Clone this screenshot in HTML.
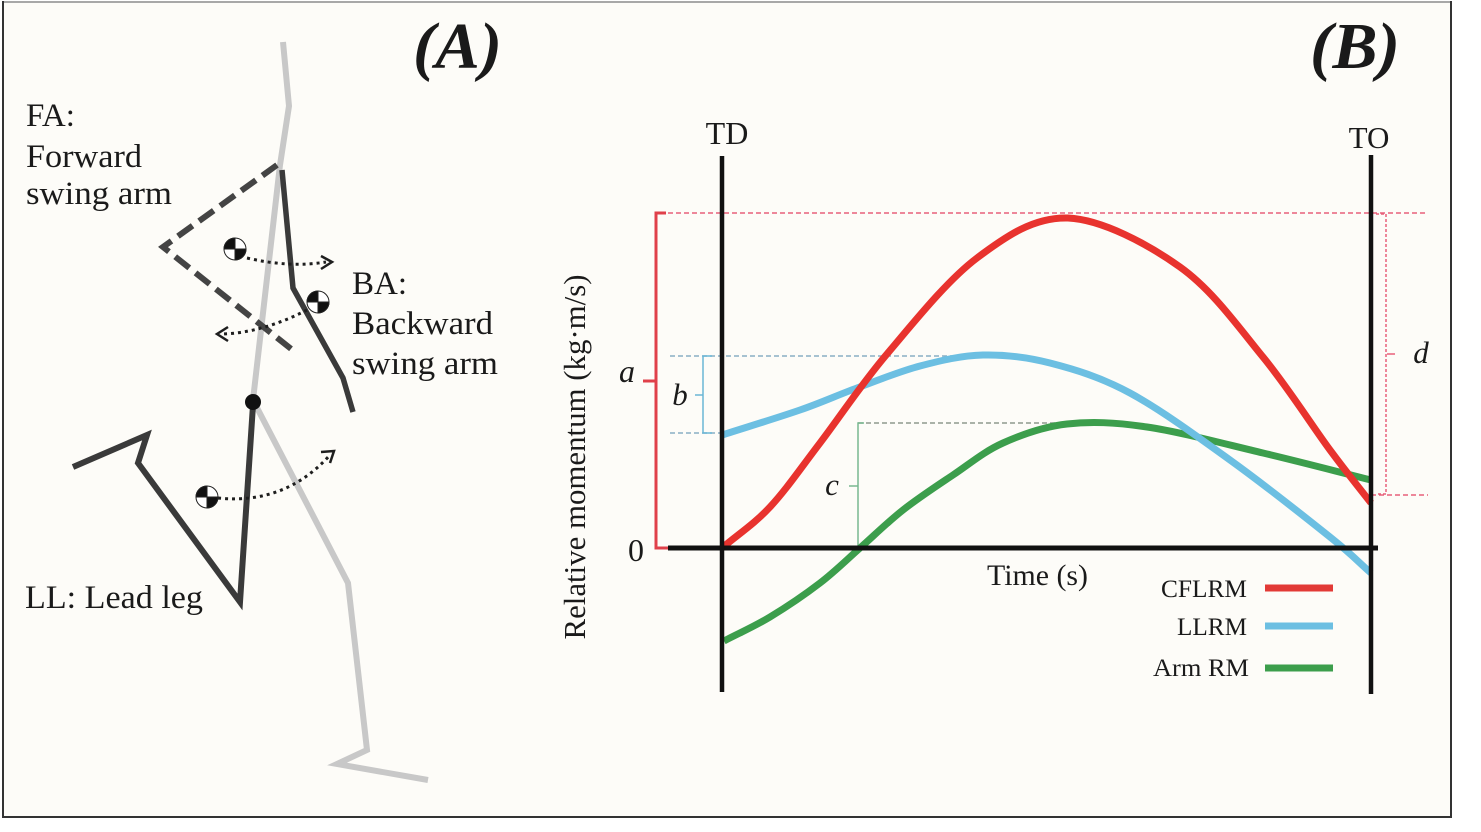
<!DOCTYPE html>
<html>
<head>
<meta charset="utf-8">
<style>
  html, body { margin: 0; padding: 0; background: #ffffff; }
  body { width: 1481px; height: 832px; overflow: hidden; }
  svg { display: block; }
  text { font-family: "Liberation Serif", "DejaVu Serif", serif; fill: #1a1a1a; }
</style>
</head>
<body>
<svg width="1481" height="832" viewBox="0 0 1481 832" xmlns="http://www.w3.org/2000/svg">
  <rect x="0" y="0" width="1481" height="832" fill="#ffffff"/>
  <rect x="3" y="2" width="1448" height="815" fill="#fdfcf8"/>
  <line x1="2" y1="2" x2="1452" y2="2" stroke="#a8a8a8" stroke-width="2"/>
  <line x1="3" y1="1" x2="3" y2="818" stroke="#333" stroke-width="2"/>
  <line x1="1451" y1="1" x2="1451" y2="818" stroke="#333" stroke-width="2"/>
  <line x1="2" y1="817" x2="1452" y2="817" stroke="#333" stroke-width="2"/>

  <!-- ================= (A) ================= -->
  <text x="413" y="68" font-size="66" font-weight="bold" font-style="italic" textLength="89" lengthAdjust="spacingAndGlyphs">(A)</text>

  <text x="26" y="126" font-size="33">FA:</text>
  <text x="26" y="167" font-size="33" textLength="116" lengthAdjust="spacingAndGlyphs">Forward</text>
  <text x="26" y="204" font-size="33" textLength="146" lengthAdjust="spacingAndGlyphs">swing arm</text>

  <text x="352" y="294" font-size="33">BA:</text>
  <text x="352" y="334" font-size="33" textLength="141" lengthAdjust="spacingAndGlyphs">Backward</text>
  <text x="352" y="374" font-size="33" textLength="146" lengthAdjust="spacingAndGlyphs">swing arm</text>

  <text x="25" y="608" font-size="33" textLength="178" lengthAdjust="spacingAndGlyphs">LL: Lead leg</text>

  <polyline points="283,42 289,106 280,165 253,400 348,583 367,750 337,764 428,780"
            fill="none" stroke="#c8c8c8" stroke-width="6" stroke-linejoin="miter" stroke-linecap="butt"/>

  <polyline points="282,170 293,288 343,378 353,412"
            fill="none" stroke="#3a3a3a" stroke-width="5.5" stroke-linejoin="miter"/>

  <polyline points="277,165 163,247 295,352"
            fill="none" stroke="#444" stroke-width="6" stroke-dasharray="18 8" stroke-linejoin="miter"/>

  <polyline points="253,405 240,602 138,463 147,435 73,467"
            fill="none" stroke="#3a3a3a" stroke-width="6" stroke-linejoin="miter"/>

  <circle cx="253" cy="402" r="8" fill="#111"/>

  <g fill="none" stroke="#1e1e1e" stroke-width="3" stroke-dasharray="3 4">
    <path d="M247,258 Q290,268 326,262"/>
    <path d="M307,310 Q262,333 222,334"/>
    <path d="M218,498 Q285,505 330,455"/>
  </g>
  <g fill="none" stroke="#1e1e1e" stroke-width="2.5">
    <polyline points="321,256 332,262 321,269"/>
    <polyline points="228,327 217,334 228,341"/>
    <polyline points="321,452 334,451 330,463"/>
  </g>

  <g stroke="#222" stroke-width="1">
    <circle cx="235" cy="249" r="11" fill="#fff"/>
    <path d="M235,249 L224,249 A11,11 0 0 1 235,238 Z" fill="#111"/>
    <path d="M235,249 L246,249 A11,11 0 0 1 235,260 Z" fill="#111"/>

    <circle cx="318" cy="302" r="11" fill="#fff"/>
    <path d="M318,302 L307,302 A11,11 0 0 1 318,291 Z" fill="#111"/>
    <path d="M318,302 L329,302 A11,11 0 0 1 318,313 Z" fill="#111"/>

    <circle cx="207" cy="497" r="11" fill="#fff"/>
    <path d="M207,497 L196,497 A11,11 0 0 1 207,486 Z" fill="#111"/>
    <path d="M207,497 L218,497 A11,11 0 0 1 207,508 Z" fill="#111"/>
  </g>

  <!-- ================= (B) ================= -->
  <text x="1310" y="68" font-size="66" font-weight="bold" font-style="italic" textLength="90" lengthAdjust="spacingAndGlyphs">(B)</text>

  <text x="727" y="144" font-size="32" text-anchor="middle">TD</text>
  <text x="1369" y="148" font-size="31" text-anchor="middle">TO</text>

  <text transform="translate(585,457) rotate(-90)" x="0" y="0" font-size="31" text-anchor="middle" textLength="365" lengthAdjust="spacingAndGlyphs">Relative momentum (kg·m/s)</text>

  <line x1="660" y1="213" x2="1428" y2="213" stroke="#e8607a" stroke-width="1.5" stroke-dasharray="5 3"/>
  <line x1="1371" y1="495" x2="1428" y2="495" stroke="#e8607a" stroke-width="1.5" stroke-dasharray="5 3"/>
  <line x1="670" y1="356" x2="985" y2="356" stroke="#8aaec4" stroke-width="1.5" stroke-dasharray="5 3"/>
  <line x1="670" y1="433" x2="722" y2="433" stroke="#8aaec4" stroke-width="1.5" stroke-dasharray="5 3"/>
  <line x1="858" y1="423" x2="1105" y2="423" stroke="#8e9a8e" stroke-width="1.5" stroke-dasharray="5 3"/>

  <polyline points="666,213 656,213 656,548 668,548" fill="none" stroke="#e0404a" stroke-width="3"/>
  <line x1="643" y1="381" x2="656" y2="381" stroke="#e0404a" stroke-width="3"/>
  <polyline points="712,356 703,356 703,433 712,433" fill="none" stroke="#6bb6d6" stroke-width="1.5"/>
  <line x1="695" y1="395" x2="703" y2="395" stroke="#6bb6d6" stroke-width="1.5"/>
  <polyline points="864,423 858,423 858,548" fill="none" stroke="#78b890" stroke-width="1.5"/>
  <line x1="849" y1="486" x2="858" y2="486" stroke="#78b890" stroke-width="1.5"/>
  <polyline points="1376,214 1386,214 1386,494 1376,494" fill="none" stroke="#e8607a" stroke-width="1.5" stroke-dasharray="3 2"/>
  <line x1="1387" y1="354" x2="1395" y2="354" stroke="#e8607a" stroke-width="1.5"/>

  <text x="627" y="382" font-size="32" font-style="italic" text-anchor="middle">a</text>
  <text x="680" y="405" font-size="31" font-style="italic" text-anchor="middle">b</text>
  <text x="832" y="495" font-size="31" font-style="italic" text-anchor="middle">c</text>
  <text x="1421" y="363" font-size="31" font-style="italic" text-anchor="middle">d</text>
  <text x="636" y="561" font-size="32" text-anchor="middle">0</text>

  <!-- curves (smooth) -->
  <path fill="none" stroke="#3c9e4c" stroke-width="7" stroke-linecap="butt"
    d="M724,641 C739.3,633 754,626.7 770,617
       C786,607.3 805,594.5 820,583
       C835,571.5 846.2,560.2 860,548
       C873.8,535.8 887.5,522.2 903,510
       C918.5,497.8 936.3,486.2 953,475
       C969.7,463.8 984,451.5 1003,443
       C1022,434.5 1043,426.7 1067,424
       C1091,421.3 1114.3,422.2 1147,427
       C1179.7,431.8 1225.7,444.2 1263,453
       C1300.3,461.8 1335,471 1371,480"/>
  <path fill="none" stroke="#6cbfe2" stroke-width="7" stroke-linecap="butt"
    d="M722,435 C748,426.7 777.5,417.8 800,410
       C822.5,402.2 837,395.3 857,388
       C877,380.7 899,371.5 920,366
       C941,360.5 961.3,355.5 983,355
       C1004.7,354.5 1025.5,356.7 1050,363
       C1074.5,369.3 1100,376.8 1130,393
       C1160,409.2 1196.7,436 1230,460
       C1263.3,484 1306.5,518.2 1330,537
       C1353.5,555.8 1357.3,561 1371,573"/>
  <path fill="none" stroke="#e8332e" stroke-width="7" stroke-linecap="butt"
    d="M722,548 C738,534.3 753.7,524.5 770,507
       C786.3,489.5 800.5,468.5 820,443
       C839.5,417.5 860.8,384.8 887,354
       C913.2,323.2 946.8,280.7 977,258
       C1007.2,235.3 1034.2,217 1068,218
       C1101.8,219.5 1147.5,243.8 1180,267
       C1212.5,290.2 1238,326.5 1263,357
       C1288,387.5 1312,425.7 1330,450
       C1348,474.3 1357.3,485.3 1371,503"/>

  <line x1="668" y1="548" x2="1378" y2="548" stroke="#111" stroke-width="5"/>
  <line x1="722" y1="156" x2="722" y2="692" stroke="#111" stroke-width="4.5"/>
  <line x1="1371" y1="155" x2="1371" y2="694" stroke="#111" stroke-width="4.5"/>

  <text x="987" y="585" font-size="30" textLength="101" lengthAdjust="spacingAndGlyphs">Time (s)</text>

  <text x="1247" y="597" font-size="25" text-anchor="end" textLength="86" lengthAdjust="spacingAndGlyphs">CFLRM</text>
  <text x="1247" y="635" font-size="25" text-anchor="end" textLength="70" lengthAdjust="spacingAndGlyphs">LLRM</text>
  <text x="1249" y="676" font-size="25" text-anchor="end" textLength="96" lengthAdjust="spacingAndGlyphs">Arm RM</text>
  <line x1="1265" y1="588" x2="1333" y2="588" stroke="#e23a36" stroke-width="7"/>
  <line x1="1265" y1="626" x2="1333" y2="626" stroke="#6cbfe2" stroke-width="7"/>
  <line x1="1265" y1="668" x2="1333" y2="668" stroke="#3c9e4c" stroke-width="7"/>
</svg>
</body>
</html>
